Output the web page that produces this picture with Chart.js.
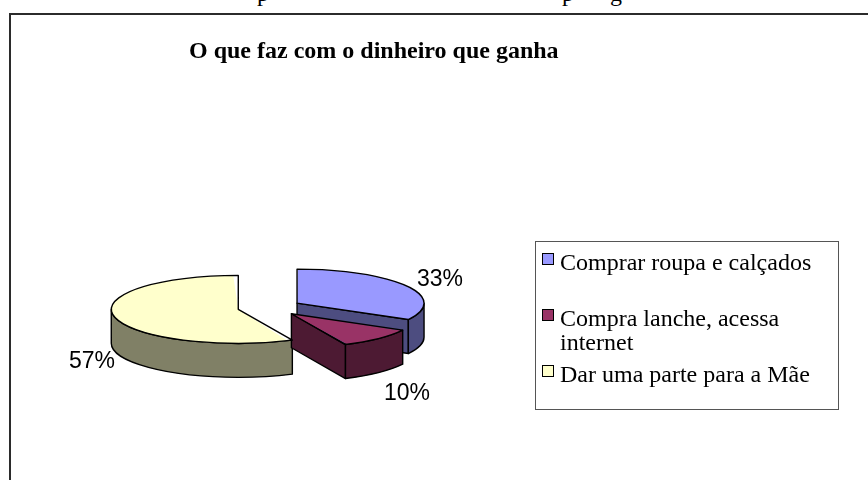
<!DOCTYPE html>
<html lang="pt">
<head>
<meta charset="utf-8">
<style>
html,body{margin:0;padding:0;background:#fff;overflow:hidden}
#wrap{position:relative;width:868px;height:480px;overflow:hidden}
canvas{position:absolute;left:0;top:0}
.cut{position:absolute;font:24px "Liberation Serif",serif;color:#000;line-height:24px;top:-19px}
</style>
<script src="https://cdn.jsdelivr.net/npm/chart.js@4"></script>
</head>
<body>
<div id="wrap">
<span class="cut" style="left:257px">p</span>
<span class="cut" style="left:562px">p</span>
<span class="cut" style="left:610px">g</span>
<canvas id="c" width="868" height="480"></canvas>
</div>
<script>
const titleText = "O que faz com o dinheiro que ganha";
const categories = [["Comprar roupa e calçados",""],["Compra lanche, acessa","internet"],["Dar uma parte para a Mãe",""]];
const values = [33,10,57];
const topColors = ["#9999FF","#993366","#FFFFCC"];
const wallColors = ["#4D4D80","#4D1A33","#808066"];

const PIE_X = 269.5, PIE_Y = 307.5, TILT = 0.268, DEPTH = 34;
const RADIUS = 127, EXPLODE = 32;
const LABEL_POS = [[440,280],[407,394],[92,362]];
const LEG = {left:535,top:241,right:838,bottom:409,pad:8,step:56,textTop:252,sw:11,swTopOffset:1,swX:542};

function pieTransform(ctx, arc){
  ctx.translate(PIE_X, PIE_Y);
  ctx.scale(1, TILT);
  ctx.translate(-arc.x, -arc.y);
}
function strokeScreen(ctx, w){
  ctx.save();
  ctx.setTransform(1,0,0,1,0,0);
  ctx.lineWidth = w;
  ctx.strokeStyle = "#000";
  ctx.lineJoin = "round";
  ctx.stroke();
  ctx.restore();
}
function geom(arc){
  const mid = (arc.startAngle + arc.endAngle)/2;
  return {cx: arc.x + Math.cos(mid)*EXPLODE, cy: arc.y + Math.sin(mid)*EXPLODE, r: RADIUS, a: arc.startAngle, b: arc.endAngle};
}
const pie3d = {
  id: "pie3d",
  beforeDraw(chart){
    const ctx = chart.ctx;
    ctx.save();
    ctx.strokeStyle = "#2b2b2b";
    ctx.lineWidth = 2;
    ctx.beginPath();
    ctx.moveTo(10, 480); ctx.lineTo(10, 14); ctx.lineTo(868, 14);
    ctx.stroke();
    ctx.strokeStyle = "#555";
    ctx.lineWidth = 1;
    ctx.strokeRect(LEG.left+.5, LEG.top+.5, LEG.right-LEG.left, LEG.bottom-LEG.top);
    ctx.restore();
  },
  afterLayout(chart){
    const l = chart.legend;
    l.left = LEG.swX - LEG.pad; l.top = LEG.textTop - LEG.pad; l.right = LEG.right; l.bottom = LEG.bottom + 40;
    l.width = l.right - l.left; l.height = l.bottom - l.top;
    const t = chart.titleBlock;
    t.left = 189; t.right = 600; t.top = 39; t.bottom = 64;
  },
  beforeDatasetsDraw(chart){
    const ctx = chart.ctx, arcs = chart.getDatasetMeta(0).data;
    // Chart.js grows an offset arc's radius by offset/4 * (1 - sin(sweep)); undo it so every slice has one radius
    arcs.forEach(arc=>{
      const fix = 1 - Math.sin(Math.min(Math.PI, arc.circumference));
      arc.outerRadius = RADIUS - EXPLODE*fix;
    });
    // legend swatches
    ctx.save();
    values.forEach((v,i)=>{
      const y = LEG.textTop + i*LEG.step + LEG.swTopOffset;
      ctx.fillStyle = topColors[i];
      ctx.fillRect(LEG.swX+.5, y+.5, LEG.sw, LEG.sw);
      ctx.strokeStyle="#000"; ctx.lineWidth=1;
      ctx.strokeRect(LEG.swX+.5, y+.5, LEG.sw, LEG.sw);
    });
    ctx.restore();
    // extruded walls, back to front
    ctx.save();
    pieTransform(ctx, arcs[0]);
    const D = DEPTH/TILT;
    [0,2,1].forEach(i=>{
      const g = geom(arcs[i]);
      ctx.fillStyle = wallColors[i];
      [[g.a,-1],[g.b,1]].forEach(([an,side])=>{
        if(side*Math.cos(an) <= 1e-6) return; // cut face turned away from the viewer
        ctx.beginPath();
        ctx.moveTo(g.cx,g.cy);
        ctx.lineTo(g.cx+Math.cos(an)*g.r, g.cy+Math.sin(an)*g.r);
        ctx.lineTo(g.cx+Math.cos(an)*g.r, g.cy+Math.sin(an)*g.r+D);
        ctx.lineTo(g.cx, g.cy+D);
        ctx.closePath();
        ctx.fill(); strokeScreen(ctx,1.4);
      });
      const a1 = Math.max(g.a,0), a2 = Math.min(g.b,Math.PI);
      if(a2>a1){
        ctx.beginPath();
        ctx.arc(g.cx,g.cy,g.r,a1,a2);
        ctx.arc(g.cx,g.cy+D,g.r,a2,a1,true);
        ctx.closePath();
        ctx.fill(); strokeScreen(ctx,1.4);
      }
    });
    ctx.restore();
    // the library's arcs, tilted
    ctx.save();
    pieTransform(ctx, arcs[0]);
  },
  afterDatasetsDraw(chart){
    const ctx = chart.ctx, arcs = chart.getDatasetMeta(0).data;
    // outlines of the top faces, at an even screen line width
    [0,2,1].forEach(i=>{
      const g = geom(arcs[i]);
      ctx.beginPath();
      ctx.moveTo(g.cx,g.cy);
      ctx.arc(g.cx,g.cy,g.r,g.a,g.b);
      ctx.closePath();
      strokeScreen(ctx,1.4);
    });
    ctx.restore();
    ctx.save();
    ctx.font = '23px "Liberation Sans", Arial, sans-serif';
    ctx.fillStyle = "#000";
    ctx.textAlign = "center";
    ctx.textBaseline = "middle";
    values.forEach((v,i)=> ctx.fillText(v+"%", LABEL_POS[i][0], LABEL_POS[i][1]));
    ctx.restore();
  }
};

new Chart(document.getElementById("c"), {
  type: "pie",
  plugins: [pie3d],
  data: {
    labels: categories,
    datasets: [{
      data: values,
      backgroundColor: topColors,
      borderWidth: 0,
      offset: EXPLODE*4,
      clip: false
    }]
  },
  options: {
    responsive: false,
    animation: false,
    events: [],
    radius: RADIUS,
    plugins: {
      tooltip: {enabled:false},
      title: {
        display: true,
        text: titleText,
        align: "start",
        color: "#000",
        padding: 0,
        font: {family:'"Liberation Serif", serif', size:24, weight:"bold", lineHeight:"25px"}
      },
      legend: {
        display: true,
        position: "right",
        align: "start",
        labels: {
          padding: LEG.pad,
          boxWidth: 6, boxHeight: 0,
          color: "#000",
          font: {family:'"Liberation Serif", serif', size:24, lineHeight:"24px"},
          generateLabels(chart){
            return categories.map((t,i)=>({text:t, fillStyle:"rgba(0,0,0,0)", strokeStyle:"rgba(0,0,0,0)", lineWidth:0, index:i, hidden:false}));
          }
        }
      }
    }
  }
});
</script>
</body>
</html>
